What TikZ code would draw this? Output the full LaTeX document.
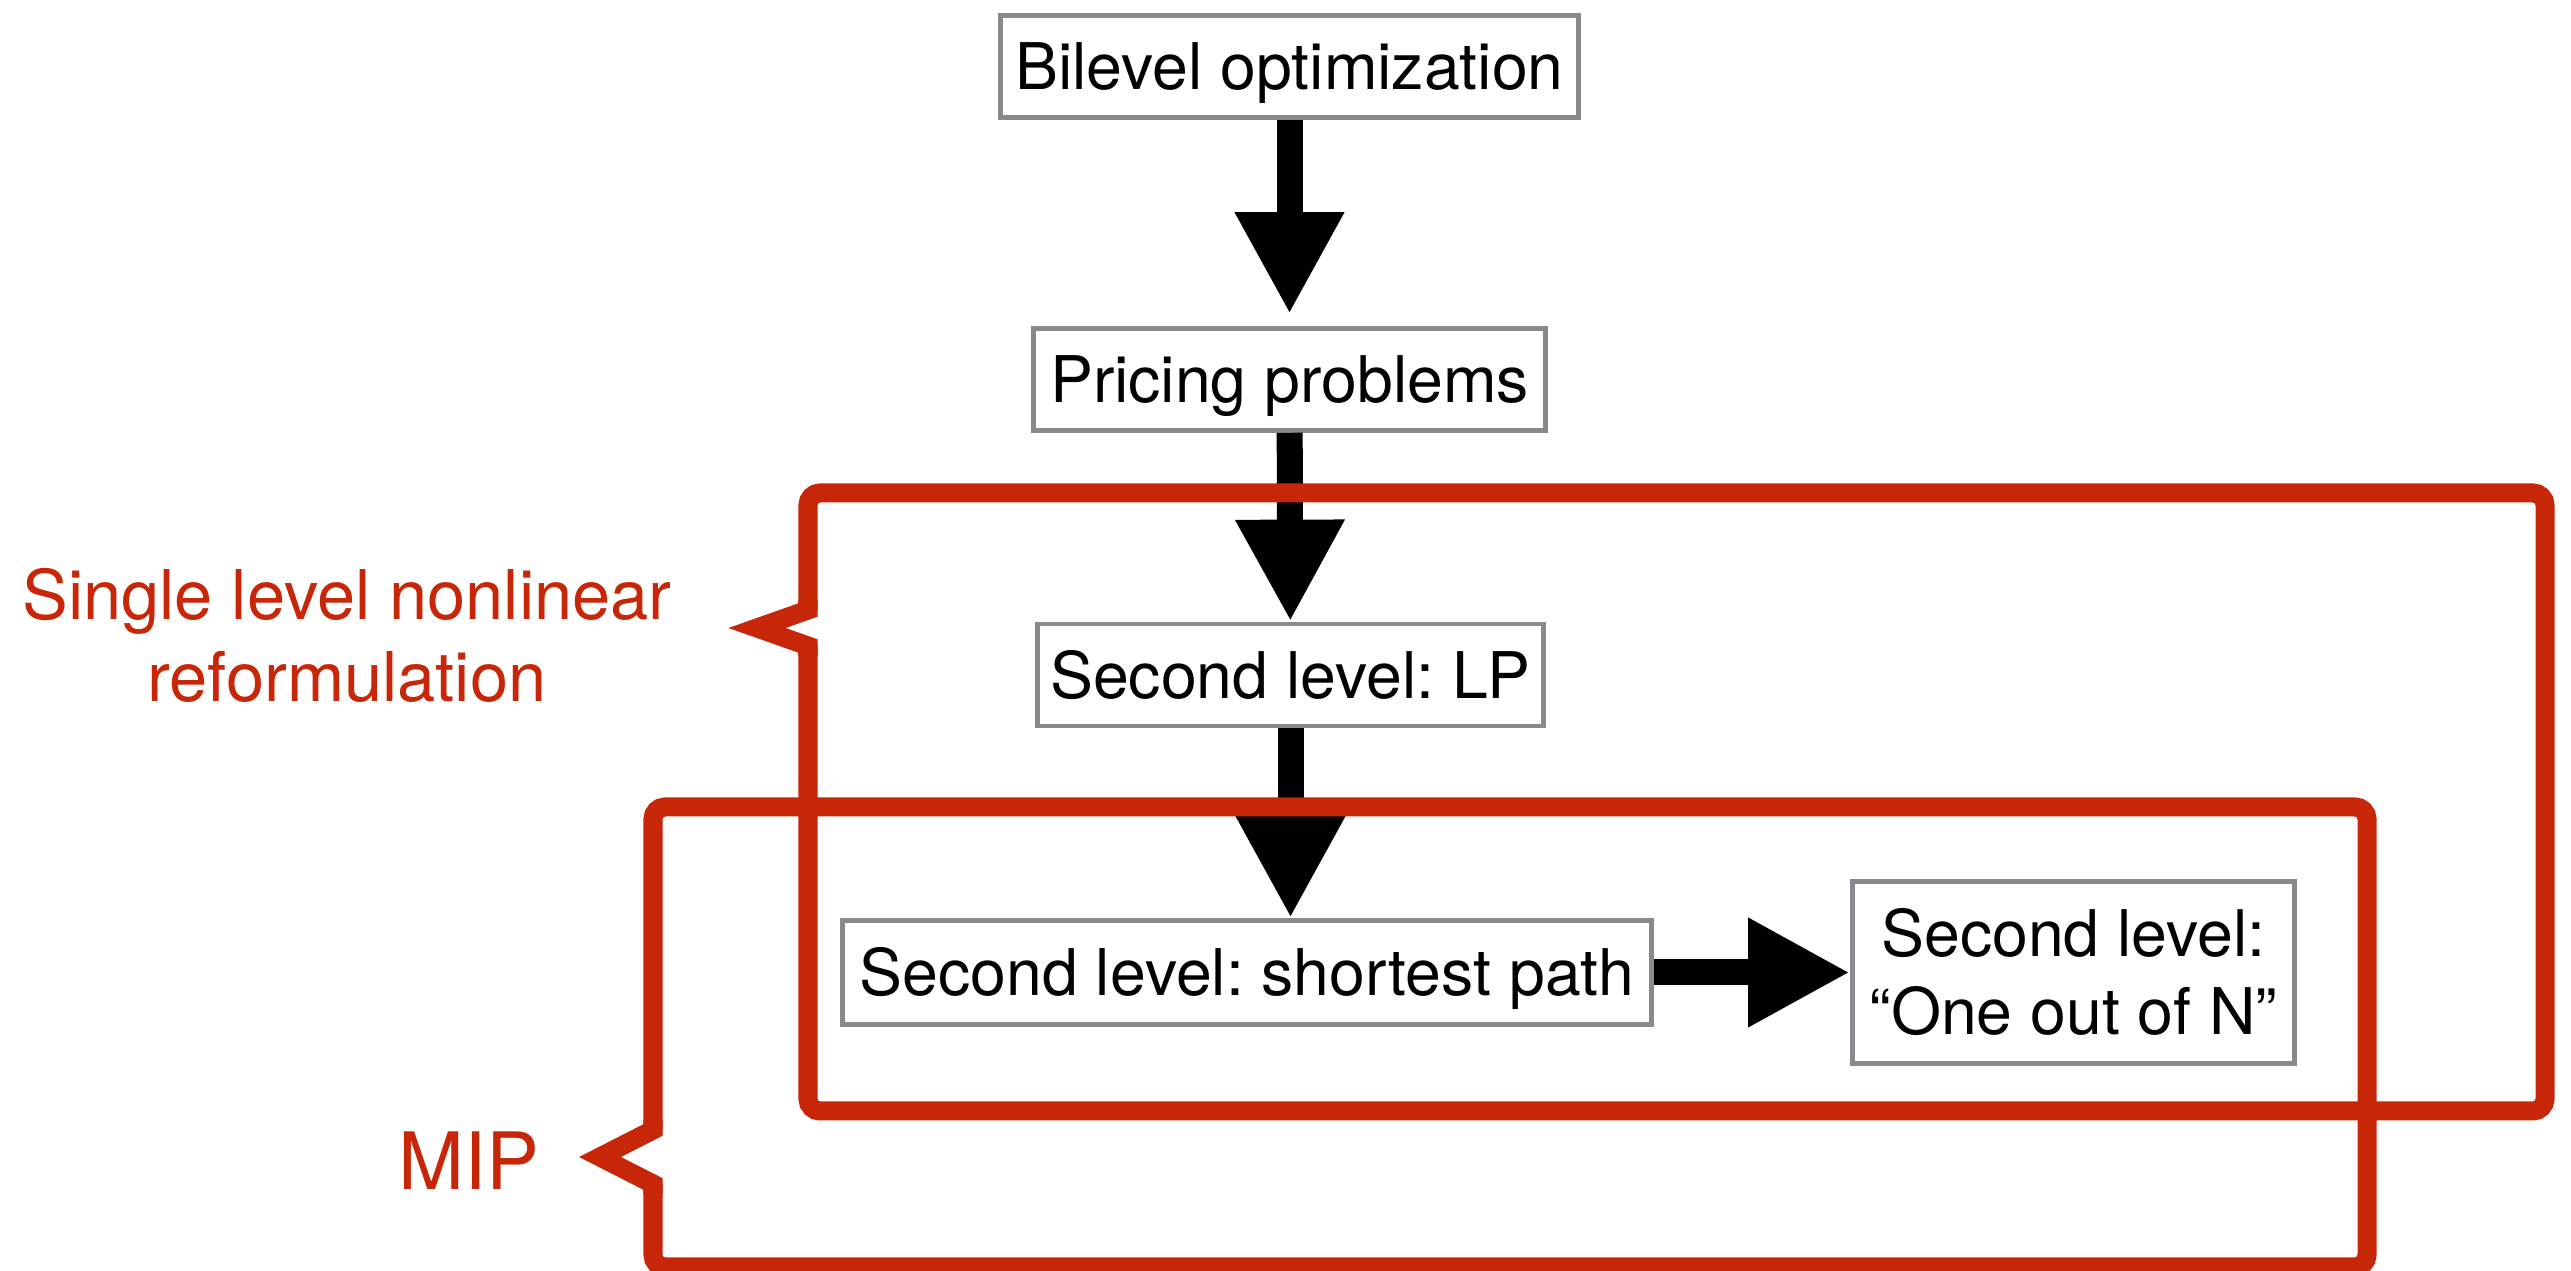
\documentclass[tikz,border=0pt]{standalone}
\usepackage{fontspec}
\setmainfont{TeX Gyre Heros}
\usetikzlibrary{arrows.meta}
\definecolor{brred}{RGB}{200,38,8}
\definecolor{boxgray}{RGB}{135,137,140}
\frenchspacing
\begin{document}
\begin{tikzpicture}[x=0.01cm,y=-0.01cm,
  stage/.style={draw=boxgray, line width=0.045cm, fill=white, inner sep=0pt,
    align=center, font=\fontsize{18.3}{22.2}\selectfont,
    text height=13.1pt, text depth=0pt, minimum height=1.02cm},
  stagetwo/.style={stage, text height=35.3pt},
  bigarrow/.style={line width=0.26cm, -{Triangle[width=1.02cm,length=1.02cm]}},
  bracketline/.style={draw=brred, line width=0.19cm},
  bracketlabel/.style={text=brred, inner sep=0pt, align=center}]
\useasboundingbox (0,0) rectangle (2571,1271);
\fill[white] (0,0) rectangle (2571,1271);

% problem stages
\node[stage, minimum width=5.78cm] (bil) at (1289.5,66.5) {Bilevel optimization};
\node[stage, minimum width=5.12cm] (pri) at (1289.5,379.5) {Pricing problems};
\node[stage, minimum width=5.06cm] (lp) at (1290.5,675) {Second level: LP};
\node[stage, minimum width=8.09cm, minimum height=1.04cm] (sp) at (1247,972.5) {Second level: shortest path};
\node[stagetwo, minimum width=4.42cm, minimum height=1.82cm] (one) at (2073.5,972.5) {Second level:\\“One out of N”};

% reductions
\draw[bigarrow, shorten >=0.12cm] (bil) -- (pri);
\draw[bigarrow] (pri) -- (lp);
\draw[bigarrow] (lp.south) -- (lp.south |- sp.north);
\draw[bigarrow] (sp) -- (one);

% single level nonlinear reformulation bracket
\draw[bracketline, rounded corners=0.12cm] (808,610) -- (808,493) -- (2545,493)
  -- (2545,1111) -- (808,1111) -- (808,646);
\draw[bracketline] (808,600) -- (808,610) -- (757,628) -- (808,646) -- (808,656);

% MIP bracket
\draw[bracketline, rounded corners=0.12cm] (653,1130) -- (653,807) -- (2367,807)
  -- (2367,1267) -- (653,1267) -- (653,1184);
\draw[bracketline] (653,1120) -- (653,1130) -- (600,1157) -- (653,1184) -- (653,1194);

% bracket labels
\node[bracketlabel, font=\fontsize{19.5}{23.3}\selectfont, text height=37.3pt, text depth=0pt]
  (slabel) at (347,635.5) {Single level nonlinear\\reformulation};
\node[bracketlabel, font=\fontsize{22.5}{27}\selectfont] (miplabel) at (469,1161) {MIP};
\end{tikzpicture}
\end{document}
